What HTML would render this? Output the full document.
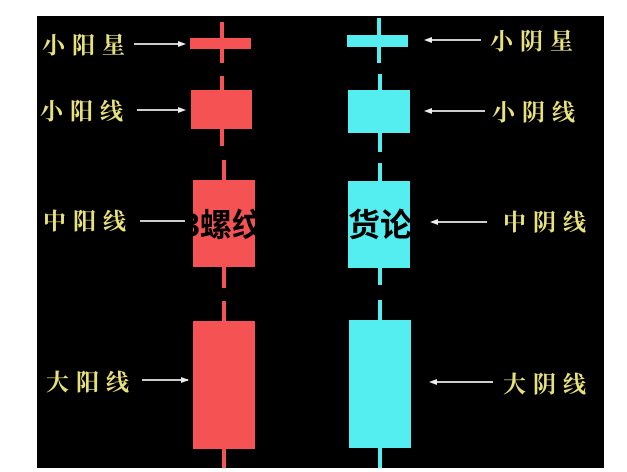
<!DOCTYPE html>
<html><head><meta charset="utf-8"><style>
html,body{margin:0;padding:0;background:#fff;}
svg{display:block}
.l{font-family:"Liberation Serif","Noto Serif CJK SC",serif;font-weight:bold;font-size:23px;fill:#e9e27a;letter-spacing:7px}
.w{font-family:"Liberation Sans","Noto Sans CJK SC",sans-serif;font-weight:bold;font-size:32px;fill:#000}
</style></head><body>
<svg width="627" height="472" viewBox="0 0 627 472">
<rect x="37" y="16" width="567" height="452" fill="#000"/>
<g fill="#f55353">
<rect x="220" y="22" width="4" height="41"/>
<rect x="190" y="38" width="61" height="11"/>
<rect x="220" y="76" width="4" height="70"/>
<rect x="191" y="90" width="61" height="39"/>
<rect x="222" y="160" width="4" height="128"/>
<rect x="193" y="180" width="62" height="87"/>
<rect x="222" y="301" width="4" height="167"/>
<rect x="193" y="321" width="62" height="128"/>
</g>
<g fill="#55eef0">
<rect x="377" y="18" width="4" height="45"/>
<rect x="347" y="35" width="61" height="12"/>
<rect x="378" y="74" width="4" height="78"/>
<rect x="348" y="90" width="62" height="43"/>
<rect x="378" y="163" width="4" height="122"/>
<rect x="348" y="181" width="62" height="87"/>
<rect x="378" y="300" width="4" height="168"/>
<rect x="349" y="320" width="62" height="128"/>
</g>
<g stroke="#ccc" stroke-width="2">
<line x1="134" y1="44" x2="182" y2="44"/>
<line x1="137" y1="110" x2="182" y2="110"/>
<line x1="140" y1="221" x2="185" y2="221"/>
<line x1="142" y1="380" x2="188" y2="380"/>
<line x1="428" y1="40" x2="481" y2="40"/>
<line x1="428" y1="111" x2="485" y2="111"/>
<line x1="432" y1="222" x2="487" y2="222"/>
<line x1="432" y1="382" x2="493" y2="382"/>
</g>
<g fill="#eee">
<polygon points="186,44 178,41 178,47"/>
<polygon points="186,110 178,107 178,113"/>
<polygon points="189,380 181,377 181,383"/>
<polygon points="424,40 432,37 432,43"/>
<polygon points="424,111 432,108 432,114"/>
<polygon points="430,222 438,219 438,225"/>
<polygon points="429,382 437,379 437,385"/>
</g>
<text class="l" x="42" y="53">小阳星</text>
<text class="l" x="40" y="119">小阳线</text>
<text class="l" x="43" y="229">中阳线</text>
<text class="l" x="46" y="390">大阳线</text>
<text class="l" x="490" y="49">小阴星</text>
<text class="l" x="492" y="120">小阴线</text>
<text class="l" x="503" y="230">中阴线</text>
<text class="l" x="503" y="392">大阴线</text>
<text class="w" x="182" y="236">3螺纹</text>
<text class="w" x="262" y="236">钢期</text>
<text class="w" x="348" y="236">货论</text>
</svg>
</body></html>
